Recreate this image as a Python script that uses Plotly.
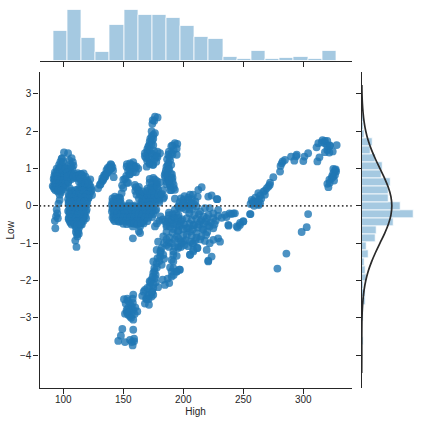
"""
Joint residual plot: High vs Low with marginal histograms and a normal fit on the right.
"""
import plotly.graph_objects as go

high_left = [100.6, 104, 98.6, 97.6, 99, 101, 105, 107, 106, 108.5,
             107.5, 106, 105, 94.5, 97, 99.5, 102, 93, 95.5, 98,
             100.5, 103, 92.5, 95, 97.5, 100, 102.5, 92, 94.5, 97,
             99.5, 102, 104.5, 92.5, 95, 97.5, 100, 102.5, 91.2, 93.5,
             96, 98.5, 101, 92.5, 95, 97.5, 100, 95.5, 98, 97,
             97, 96, 94.5, 95, 95.5, 94, 93, 93.4,
             96, 98.5, 101, 94, 96.5, 99, 101.5, 93.5, 96, 98.5,
             101, 103.5, 93, 95.5, 98, 100.5, 103, 94, 96.5, 99,
             101.5, 104, 92, 94.5, 97, 99.5, 102, 93.5, 96, 98.5,
             96.5, 99, 100, 102, 106.5, 108, 104, 103.5, 106, 108.5]
low_left = [1.43, 1.41, 1.26, 1.18, 1.12, 1.05, 1.22, 1.28, 1.12, 1.08,
            1.0, 0.94, 0.88, 1.0, 1.03, 0.98, 1.01, 0.9, 0.93, 0.9,
            0.94, 0.88, 0.8, 0.84, 0.82, 0.85, 0.81, 0.72, 0.74, 0.7,
            0.75, 0.72, 0.76, 0.64, 0.66, 0.62, 0.66, 0.63, 0.53, 0.56,
            0.55, 0.52, 0.57, 0.46, 0.44, 0.48, 0.45, 0.38, 0.36, 0.3,
            0.16, 0.06, -0.1, -0.2, -0.33, -0.28, -0.4, -0.6,
            0.97, 0.95, 0.98, 0.87, 0.86, 0.88, 0.87, 0.78, 0.79, 0.77,
            0.78, 0.79, 0.69, 0.7, 0.68, 0.69, 0.7, 0.6, 0.61, 0.59,
            0.6, 0.62, 0.51, 0.5, 0.52, 0.51, 0.5, 0.42, 0.43, 0.41,
            1.1, 1.28, 1.18, 1.0, 1.05, 1.17, 0.98, 0.9, 0.82, 0.78]

high_column = [105.6, 112, 115, 118, 106, 109, 112, 115, 118, 121,
               105, 108, 111, 114, 117, 120, 104, 107, 110, 113,
               116, 119, 104.5, 107.5, 110.5, 113.5, 116.5, 119, 106, 109,
               112, 115, 118, 105, 108, 111, 114, 117, 119.5, 105,
               108, 111, 114, 117, 106, 109, 112, 115, 118, 104.5,
               107.5, 110.5, 113.5, 116.5, 106, 109, 112, 115, 110, 113,
               115.5, 111, 113, 111.7, 110, 111, 112.5, 115, 110, 113,
               116, 113, 116, 119, 122.5, 116, 119, 122, 121, 123.6,
               119.5, 110, 104.5, 107, 103.5,
               107, 109.5, 112, 114.5, 117, 108.5, 111, 113.5, 116, 118.5,
               114, 117, 120, 123, 120.5, 123, 119, 122, 124, 118,
               121, 117.5, 120, 114, 117, 120, 115, 118, 121, 107,
               110, 113, 116, 104.5, 107.5, 110.5, 113.5, 116.5, 119.5, 106,
               109, 112, 115, 118, 121, 105.5, 108.5, 111.5, 114.5, 117.5,
               104.5, 107.5, 110.5, 113.5, 116.5, 119.5, 106, 109, 112, 115,
               118, 104, 107, 110, 113, 116, 119, 105.5, 108.5, 111.5,
               114.5, 117.5, 104.5, 107.5, 110.5, 113.5, 116.5, 119, 105.5, 108.5,
               111.5, 114.5, 117, 107, 109.5, 112, 114.5, 110.5, 112.5, 111.5,
               113]
low_column = [0.47, 0.44, 0.46, 0.42, 0.36, 0.34, 0.37, 0.35, 0.33, 0.36,
              0.27, 0.25, 0.28, 0.26, 0.24, 0.26, 0.18, 0.16, 0.19, 0.17,
              0.15, 0.18, 0.09, 0.07, 0.1, 0.08, 0.06, 0.09, 0.0, -0.02,
              0.01, -0.01, 0.0, -0.09, -0.07, -0.1, -0.08, -0.09, -0.1, -0.18,
              -0.16, -0.19, -0.17, -0.18, -0.27, -0.25, -0.28, -0.26, -0.27, -0.36,
              -0.34, -0.37, -0.35, -0.36, -0.45, -0.43, -0.46, -0.44, -0.54, -0.52,
              -0.5, -0.62, -0.6, -0.82, -0.93, -1.1, 0.83, 0.85, 0.75, 0.77,
              0.74, 0.65, 0.63, 0.66, 0.71, 0.55, 0.53, 0.56, 0.43, 0.43,
              0.2, 0.8, 0.66, 0.72, 0.78,
              0.84, 0.86, 0.88, 0.85, 0.87, 0.8, 0.79, 0.81, 0.8, 0.78,
              0.5, 0.49, 0.51, 0.5, 0.4, 0.39, 0.3, 0.31, 0.29, 0.2,
              0.21, 0.1, 0.11, 0.72, 0.7, 0.68, 0.62, 0.6, 0.61, 0.41,
              0.42, 0.4, 0.41, 0.31, 0.32, 0.3, 0.31, 0.32, 0.3, 0.22,
              0.23, 0.21, 0.22, 0.23, 0.21, 0.13, 0.12, 0.14, 0.13, 0.12,
              0.04, 0.05, 0.03, 0.04, 0.05, 0.03, -0.05, -0.04, -0.06, -0.05,
              -0.04, -0.14, -0.13, -0.15, -0.14, -0.13, -0.15, -0.23, -0.22, -0.24,
              -0.23, -0.22, -0.32, -0.31, -0.33, -0.32, -0.31, -0.33, -0.41, -0.4,
              -0.42, -0.41, -0.4, -0.5, -0.49, -0.51, -0.5, -0.7, -0.69, -0.76,
              -0.75]

high_diag_up = [129, 130.5, 132, 133.5, 135, 136, 137, 138.5, 140, 141,
                139, 136.5, 138, 134.5, 142, 131, 133, 135, 137, 138,
                140, 141.5, 139.5, 134, 132.5, 136]
low_diag_up = [0.47, 0.56, 0.65, 0.72, 0.84, 0.96, 1.02, 1.06, 1.1, 1.04,
               0.98, 0.88, 0.94, 0.78, 0.77, 0.58, 0.68, 0.78, 0.9, 1.0,
               1.0, 0.95, 1.12, 0.82, 0.74, 0.86]

high_peak = [176.4, 178.6, 174.5, 174.2, 175.8, 173.6, 176.4, 173.6, 175, 172,
             170.8, 173.5, 175, 168, 170, 172, 174, 176.4, 178.5, 180.6,
             169, 171, 173.6, 176, 178.5, 169.5, 172, 174.5,
             175, 172.5, 174, 171.5, 170, 172.5, 175.5, 178, 168, 170,
             172, 175, 177.5]
low_peak = [2.39, 2.37, 2.3, 2.2, 2.28, 2.0, 1.95, 1.86, 1.8, 1.72,
            1.59, 1.66, 1.63, 1.41, 1.45, 1.5, 1.4, 1.32, 1.45, 1.41,
            1.28, 1.3, 1.23, 1.25, 1.3, 1.05, 1.15, 1.1,
            1.9, 1.8, 1.75, 1.63, 1.52, 1.42, 1.48, 1.33, 1.33, 1.2,
            1.12, 1.1, 1.18]

high_second = [193, 195, 191, 194.5, 187.5, 190, 194.5, 187.5, 189, 186,
               188, 185, 187, 189.5, 185, 187, 190, 186, 188.5, 191,
               189, 192, 190, 193,
               190, 192, 188, 191, 186.5, 188.5, 190, 187, 185.5, 188,
               190.5, 184.5, 187, 191, 186, 189, 192, 189, 188]
low_second = [1.68, 1.66, 1.62, 1.54, 1.37, 1.42, 1.37, 1.14, 1.22, 1.05,
              1.0, 0.88, 0.92, 0.86, 0.76, 0.72, 0.75, 0.65, 0.62, 0.66,
              0.52, 0.56, 0.42, 0.43,
              1.6, 1.5, 1.45, 1.38, 1.25, 1.3, 1.1, 1.08, 0.95, 0.98,
              0.85, 0.82, 0.8, 0.75, 0.58, 0.55, 0.48, 0.42, 0.68]

high_hump = [155.6, 158.3, 152.8, 162.5, 156, 159, 154, 157, 160.5, 155,
             151.4, 153, 148.6, 150, 147, 159.7, 163.9, 162, 165, 168,
             166, 170, 172, 176.4, 180.6, 174, 178, 170, 173, 176,
             179, 183, 168, 172, 175, 178, 181, 184, 165, 169,
             172, 176, 180, 183.3,
             153, 155, 157, 159.5, 161, 158, 155.5, 152.5, 150, 149,
             154, 165, 168, 171, 174, 177, 180, 163, 166, 169,
             172, 175, 178, 161, 164, 167, 170, 173, 176, 179,
             182, 160, 163, 166, 170, 174, 160.5, 163, 175, 178,
             175, 178, 172]
low_hump = [1.14, 1.17, 1.05, 1.0, 1.04, 1.08, 0.94, 0.98, 0.9, 0.84,
            0.72, 0.62, 0.34, 0.48, 0.22, 0.56, 0.34, 0.44, 0.28, 0.18,
            0.12, 0.3, 0.72, 0.7, 0.63, 0.6, 0.58, 0.46, 0.5, 0.48,
            0.44, 0.42, 0.34, 0.36, 0.32, 0.36, 0.3, 0.24, 0.02, 0.16,
            0.2, 0.18, 0.16, 0.2,
            1.12, 1.0, 1.1, 1.03, 1.05, 0.9, 0.85, 0.8, 0.7, 0.55,
            0.62, 0.1, 0.11, 0.09, 0.1, 0.12, 0.09, 0.2, 0.21, 0.2,
            0.22, 0.21, 0.2, 0.3, 0.31, 0.29, 0.3, 0.31, 0.29, 0.3,
            0.32, 0.4, 0.41, 0.39, 0.4, 0.41, 0.5, 0.51, 0.5, 0.52,
            0.75, 0.66, 0.62]

high_band = [143, 146, 141, 144, 147, 140.5, 143.5, 146.5, 141, 144,
             147, 150, 153, 156, 159, 162, 165, 168, 171, 174,
             140.5, 143.5, 146.5, 149.5, 152.5, 155.5, 158.5, 161.5, 164.5, 167.5,
             170.5, 173.5, 176.5, 142, 145, 148, 151, 154, 157, 160,
             163, 166, 169, 172, 142, 147, 150, 153, 156, 159,
             162, 165, 168, 158, 161, 164, 167, 164, 158, 176.4,
             180, 155, 163, 178, 183,
             141, 144, 147.5, 142, 145, 148, 142, 145, 148, 151,
             154, 157, 160, 163, 166, 169, 172, 175, 141.5, 144.5,
             147.5, 150.5, 153.5, 156.5, 159.5, 162.5, 165.5, 168.5, 171.5, 174.5,
             177.5, 142, 145, 148, 151, 154, 157, 160, 163, 166,
             169, 172, 175, 141, 144, 147, 150, 153, 156, 159,
             162, 165, 168, 171, 174, 143, 146, 149, 152, 155,
             158, 161, 164, 167, 170, 150, 153, 156, 159, 162,
             165]
low_band = [0.25, 0.22, 0.12, 0.14, 0.1, 0.03, 0.05, 0.01, -0.06, -0.04,
            -0.07, -0.05, -0.03, -0.08, -0.02, -0.05, -0.09, -0.04, -0.06, -0.03,
            -0.15, -0.17, -0.14, -0.16, -0.18, -0.15, -0.17, -0.14, -0.18, -0.16,
            -0.14, -0.17, -0.13, -0.27, -0.25, -0.28, -0.26, -0.27, -0.25, -0.28,
            -0.26, -0.27, -0.25, -0.24, -0.37, -0.42, -0.36, -0.38, -0.35, -0.37,
            -0.36, -0.38, -0.35, -0.46, -0.48, -0.45, -0.47, -0.55, -0.55, -0.55,
            -0.4, 0.07, -0.68, -0.47, -0.36,
            0.2, 0.19, 0.18, 0.08, 0.09, 0.07, -0.01, 0.0, -0.02, -0.01,
            0.0, -0.01, 0.01, -0.02, 0.0, -0.01, 0.01, 0.0, -0.1, -0.11,
            -0.09, -0.1, -0.11, -0.09, -0.1, -0.11, -0.09, -0.1, -0.11, -0.09,
            -0.1, -0.21, -0.2, -0.22, -0.21, -0.2, -0.22, -0.21, -0.2, -0.22,
            -0.21, -0.2, -0.22, -0.31, -0.32, -0.3, -0.31, -0.32, -0.3, -0.31,
            -0.32, -0.3, -0.31, -0.32, -0.3, -0.41, -0.42, -0.4, -0.41, -0.42,
            -0.4, -0.41, -0.42, -0.4, -0.41, -0.48, -0.49, -0.47, -0.48, -0.49,
            -0.47]

high_foot = [158, 164, 186, 191.7, 181, 188, 193, 196, 200, 203,
             192, 196, 185, 189, 194, 198, 186, 191, 195.5, 188.5,
             198, 201, 204, 207, 210, 212, 197, 200, 203, 206,
             209, 196, 199, 202, 205, 208, 211, 188, 191, 194,
             187, 190, 193, 196, 186, 189, 192, 195, 198]
low_foot = [-0.87, -0.73, -0.55, -0.62, -0.28, -0.18, -0.1, -0.02, 0.05, 0.0,
            -0.3, -0.25, -0.42, -0.45, -0.42, -0.4, -0.7, -0.72, -0.68, -0.85,
            0.2, 0.26, 0.22, 0.18, 0.12, 0.25, 0.1, 0.15, 0.08, 0.02,
            0.05, 0.0, -0.05, -0.1, -0.1, -0.08, -0.02, -0.25, -0.22, -0.2,
            -0.35, -0.38, -0.34, -0.32, -0.5, -0.55, -0.5, -0.52, -0.48]

high_bottom = [145.8, 148, 149.2, 151.4, 158.3, 157.8, 155.6, 159, 159, 157,
               150.6, 153.3, 158.3, 157.8, 155.6, 154, 157, 161.7, 151.4, 154,
               157, 158.3, 152.8, 155, 155.6, 158.3,
               152, 154, 156, 158, 160, 153, 156.5, 159.5]
low_bottom = [-3.62, -3.48, -3.3, -3.65, -3.32, -3.74, -3.59, -3.56, -3.63, -3.65,
              -2.5, -2.49, -2.38, -2.49, -2.62, -2.74, -2.7, -2.83, -2.89, -2.92,
              -2.92, -3.05, -2.79, -2.83, -2.96, -2.79,
              -2.62, -2.55, -2.78, -2.6, -2.72, -2.85, -3.0, -2.9]

high_diag = [165.8, 168, 171.4, 168, 170.8, 173.6, 175, 172, 175, 173.6,
             176.4, 175, 179, 175.9, 175, 177.8, 182, 180.6, 183.3, 177.8,
             182, 179, 183.3, 182.8, 184.7, 188.3, 190.3, 190.3, 197.2, 194.5,
             191.7, 191.7, 194.5, 191.7, 195.8, 198.6, 205.6, 208.3, 211.7, 219.5,
             220.8, 171, 174, 177, 169, 172, 184, 181, 186, 188,
             167, 169.5, 172, 174, 170, 172.5, 175, 177, 174.5, 176,
             178, 180, 178.5, 181, 184, 186, 188, 190.5, 193, 196,
             198, 193, 189, 187, 192, 200, 204, 208]
low_diag = [-2.41, -2.62, -2.65, -2.25, -2.38, -2.43, -2.38, -2.16, -2.2, -1.98,
            -1.94, -1.8, -2.18, -1.67, -1.49, -1.54, -1.58, -1.36, -1.31, -1.18,
            -1.13, -0.96, -0.82, -1.98, -2.12, -2.07, -1.89, -1.76, -1.71, -1.76,
            -1.67, -1.49, -1.34, -1.22, -1.13, -1.0, -1.31, -1.22, -1.13, -1.18,
            -1.49, -2.5, -2.3, -2.05, -2.48, -2.02, -1.42, -1.2, -1.05, -0.98,
            -2.3, -2.5, -2.4, -2.3, -2.2, -2.05, -2.1, -1.85, -1.9, -1.75,
            -1.65, -1.48, -1.4, -1.25, -1.0, -0.9, -1.1, -1.0, -0.9, -0.88,
            -1.1, -1.1, -1.65, -1.95, -1.85, -0.95, -1.08, -1.0]

high_mid = [215.3, 212.5, 223.6, 228.3, 220.8, 193, 205.6, 208, 204, 200,
            197, 207, 214, 218, 222, 229, 234.7, 243, 240, 256,
            237.5, 244.5, 247.2, 250, 202.8, 208.3, 214, 219.5, 225, 225,
            205.6, 200, 194.5, 211, 216.7, 222, 229, 230.6, 225, 222,
            223.6, 220.8, 211.7, 208.3, 205.6, 196.7, 194.5, 195.8, 191.7, 190.3,
            205, 209, 213, 217, 221, 225, 229, 199, 203, 207,
            211, 215, 219, 223, 227, 197, 201, 205, 209, 213,
            217, 221, 226, 196, 200, 204, 208, 212, 216, 220,
            203, 207, 211, 215, 219, 198, 202, 206, 210, 214,
            218, 232, 236, 201, 208]
low_mid = [0.5, 0.43, 0.28, 0.18, 0.25, 0.19, 0.3, 0.3, 0.16, 0.07,
           -0.06, 0.07, -0.15, -0.06, -0.06, -0.11, -0.24, -0.2, -0.22, -0.22,
           -0.51, -0.55, -0.51, -0.42, -0.6, -0.51, -0.42, -0.33, -0.33, -0.6,
           -0.69, -0.78, -0.82, -0.73, -0.64, -0.55, -0.87, -0.96, -0.91, -1.0,
           -1.36, -1.47, -1.13, -1.18, -1.31, -1.71, -1.76, -1.09, -1.31, -1.45,
           -0.2, -0.25, -0.22, -0.28, -0.24, -0.2, -0.27, -0.36, -0.33, -0.38,
           -0.34, -0.38, -0.42, -0.44, -0.4, -0.54, -0.5, -0.48, -0.52, -0.5,
           -0.48, -0.52, -0.5, -0.66, -0.62, -0.6, -0.63, -0.58, -0.62, -0.7,
           -0.78, -0.8, -0.85, -0.82, -0.78, -0.95, -0.92, -0.96, -0.93, -0.9,
           -0.94, -0.32, -0.3, -1.05, -1.02]

high_right = [257, 262.5, 266.7, 269.5, 272, 264, 258.4, 261, 259, 263,
              228, 255.6, 268, 270.9, 272.3, 275, 280.6, 281, 282.8, 284.7,
              289.8, 292.5, 294.5, 300, 300.9, 304, 311, 312.5, 315.3, 318,
              320, 318, 322.3, 327.8, 318, 321.7, 324.5, 313.4, 311.7, 325,
              327.3, 326.4, 325, 323.6, 321.7, 320, 320.9, 325.6, 326.4, 304,
              302.8, 298.6, 237.8, 245.3, 247.3, 250, 241.7, 238.5, 278.4, 285.9,
              316, 320, 294, 282,
              260, 262, 258, 256, 265, 268, 264, 260, 263, 320,
              322, 325, 327, 324, 322]
low_right = [0.16, 0.34, 0.38, 0.47, 0.56, 0.07, 0.07, 0.12, 0.0, 0.02,
             0.18, -0.22, 0.41, 0.52, 0.62, 0.77, 0.92, 1.07, 1.19, 1.23,
             1.32, 1.21, 1.37, 1.2, 1.32, 1.41, 1.57, 1.68, 1.7, 1.74,
             1.74, 1.68, 1.61, 1.63, 1.44, 1.43, 1.46, 1.3, 1.19, 0.99,
             0.92, 0.83, 0.79, 0.74, 0.7, 0.59, 0.5, 0.68, 0.96, -0.22,
             -0.57, -0.7, -0.53, -0.58, -0.46, -0.41, -0.2, -0.2, -1.68, -1.28,
             1.76, 1.6, 1.33, 1.14,
             0.1, 0.05, 0.12, 0.05, 0.2, 0.3, 0.28, 0.22, 0.15, 1.5,
             1.62, 0.88, 0.98, 0.8, 0.62]

high = (high_left + high_column + high_diag_up + high_peak + high_second + high_hump
        + high_band + high_foot + high_bottom + high_diag + high_mid + high_right)
low = (low_left + low_column + low_diag_up + low_peak + low_second + low_hump
       + low_band + low_foot + low_bottom + low_diag + low_mid + low_right)

# top marginal
high_edges = [91.7, 103.5, 115.3, 127.1, 138.9, 150.65, 162.45, 174.2, 186, 197.8, 209.6,
              221.4, 233.2, 245, 256.8, 268.6, 280.4, 292.1, 303.9, 315.7, 327.5]
high_density = [0.00559, 0.00942, 0.00432, 0.00176, 0.00669, 0.00942, 0.00851, 0.00851, 0.00796, 0.00651,
                0.0045, 0.00413, 0.00085, 0.00043, 0.00195, 0.00043, 0.00061, 0.00085, 0.00043, 0.00195]

# right marginal
low_edges = [-3.74, -3.527, -3.314, -3.1, -2.887, -2.674, -2.461, -2.248, -2.034, -1.821,
             -1.608, -1.395, -1.182, -0.968, -0.755, -0.542, -0.329, -0.116, 0.098, 0.311,
             0.524, 0.737, 0.95, 1.164, 1.377, 1.59, 1.803, 2.016, 2.23, 2.443]
low_density = [0.026, 0, 0, 0.033, 0.033, 0.053, 0.053, 0.033, 0.066, 0.053,
               0.04, 0.086, 0.06, 0.185, 0.199, 0.424, 0.682, 0.517, 0.351, 0.351,
               0.384, 0.265, 0.274, 0.185, 0.119, 0.142, 0.036, 0.02, 0.02]

fit_low = [-4.48, -4.0, -3.5, -3.0, -2.75, -2.5, -2.25, -2.0, -1.75, -1.5, -1.25, -1.0, -0.75, -0.5, -0.25, 0,
           0.25, 0.5, 0.75, 1.0, 1.25, 1.5, 1.75, 2.0, 2.25, 2.5, 2.75, 3.0, 3.24]
fit_density = [0.0, 0.001, 0.001, 0.004, 0.009, 0.018, 0.032, 0.054, 0.086, 0.13, 0.183, 0.242, 0.301, 0.352, 0.387, 0.399,
               0.387, 0.352, 0.301, 0.242, 0.183, 0.13, 0.086, 0.054, 0.032, 0.018, 0.009, 0.004, 0.002]

high_ticks = [100, 150, 200, 250, 300]
low_ticks = [-4, -3, -2, -1, 0, 1, 2, 3]

INK = "#262626"
BLUE = "#1f77b4"
W, H = 422, 424

fig = go.Figure()

fig.add_trace(go.Scatter(x=high, y=low, mode="markers",
                         marker=dict(color=BLUE, size=7.8, opacity=0.8, line=dict(width=0))))

kw = dict(marker=dict(color="rgba(31,119,180,0.4)", line=dict(color="rgba(255,255,255,0.75)", width=1)))
fig.add_trace(go.Bar(
    x=[(a + b) / 2 for a, b in zip(high_edges, high_edges[1:])],
    y=high_density,
    width=[b - a for a, b in zip(high_edges, high_edges[1:])],
    xaxis="x2", yaxis="y2", **kw))
fig.add_trace(go.Bar(
    y=[(a + b) / 2 for a, b in zip(low_edges, low_edges[1:])],
    x=low_density,
    width=[b - a for a, b in zip(low_edges, low_edges[1:])],
    orientation="h", xaxis="x3", yaxis="y3", **kw))
fig.add_trace(go.Scatter(x=fit_density, y=fit_low, mode="lines", xaxis="x3", yaxis="y3",
                         line=dict(color="#2a2a2a", width=1.7, shape="spline")))

axis = dict(showgrid=False, zeroline=False, showline=True, linecolor=INK, linewidth=1.2,
            ticks="outside", ticklen=5, tickwidth=1.1, tickcolor=INK,
            tickfont=dict(family="Liberation Sans", size=10, color=INK))
label_font = dict(family="Liberation Sans", size=10, color=INK)

fig.update_layout(
    width=W, height=H, margin=dict(l=0, r=0, t=0, b=0),
    paper_bgcolor="white", plot_bgcolor="white", showlegend=False,
    bargap=0, barmode="overlay",
    xaxis=dict(axis, domain=[39.5 / W, 351.7 / W], range=[80.2, 340.3], tickvals=high_ticks,
               ticklabelstandoff=-3,
               title=dict(text="High", standoff=3, font=label_font)),
    yaxis=dict(axis, domain=[1 - 388.3 / H, 1 - 72.3 / H], range=[-4.89, 3.58], tickvals=low_ticks,
               title=dict(text="Low", standoff=3, font=label_font)),
    xaxis2=dict(axis, domain=[39.5 / W, 351.7 / W], range=[80.2, 340.3], tickvals=high_ticks,
                showticklabels=False, anchor="y2"),
    yaxis2=dict(domain=[1 - 61.3 / H, 1 - 7 / H], range=[0, 0.0099], visible=False, anchor="x2"),
    xaxis3=dict(domain=[361.7 / W, 415.7 / W], range=[0, 0.715], visible=False, anchor="y3"),
    yaxis3=dict(axis, domain=[1 - 388.3 / H, 1 - 72.3 / H], range=[-4.89, 3.58], tickvals=low_ticks,
                showticklabels=False, anchor="x3"),
)

# dotted zero line of the residual plot
fig.add_shape(type="line", xref="x domain", yref="y", x0=0, x1=1, y0=0, y1=0, layer="above",
              line=dict(color="#404040", width=1.6, dash="1.6px,2.6px"))

fig.write_html("out.html", config=dict(displayModeBar=False),
               post_script="document.body.style.margin='0';")
